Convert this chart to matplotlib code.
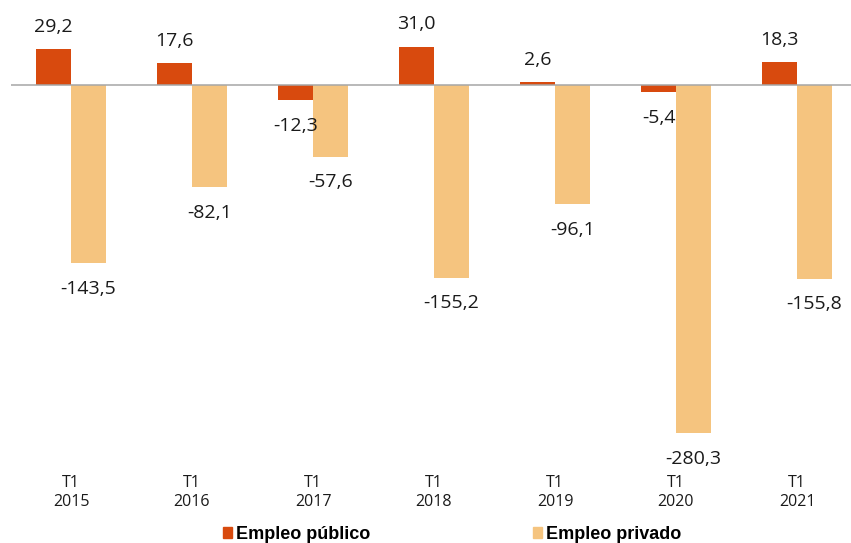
import matplotlib
matplotlib.use("Agg")
import matplotlib.pyplot as plt
from matplotlib.patches import Patch
import numpy as np

# Variación interanual del empleo, primer trimestre
periodos = ["T1\n2015", "T1\n2016", "T1\n2017", "T1\n2018", "T1\n2019", "T1\n2020", "T1\n2021"]
empleo_publico = [29.2, 17.6, -12.3, 31.0, 2.6, -5.4, 18.3]
empleo_privado = [-143.5, -82.1, -57.6, -155.2, -96.1, -280.3, -155.8]

COLOR_PUBLICO = "#d84a0e"
COLOR_PRIVADO = "#f5c47f"
FUENTE = "Open Sans"


def etiqueta(valor):
    return f"{valor:.1f}".replace(".", ",")


def main():
    W, H = 851, 543
    fig = plt.figure(figsize=(W / 100, H / 100), dpi=100)
    ax = fig.add_axes([10.5 / W, (H - 460) / H, 847 / W, 460 / H])

    x = np.arange(len(periodos))
    ancho = 0.289
    b1 = ax.bar(x - ancho / 2, empleo_publico, ancho, color=COLOR_PUBLICO, zorder=2)
    b2 = ax.bar(x + ancho / 2, empleo_privado, ancho, color=COLOR_PRIVADO, zorder=2)

    ax.axhline(0, color="#a6a6a6", lw=1.1, zorder=3)

    # etiquetas de datos
    for barras, valores in ((b1, empleo_publico), (b2, empleo_privado)):
        for rect, v in zip(barras, valores):
            cx = rect.get_x() + rect.get_width() / 2
            dy = 16 if v >= 0 else -18.5
            ax.annotate(etiqueta(v), (cx, v), xytext=(0, dy), textcoords="offset points",
                        ha="center", va="center", fontsize=14, family=FUENTE, color="#1a1a1a")

    ax.set_xlim(-0.5, len(periodos) - 0.5)
    ax.set_ylim(-302.0, 68.6)
    ax.set_xticks(x)
    ax.set_xticklabels(periodos, fontsize=11.5, family=FUENTE, linespacing=1.2, color="#1a1a1a")
    ax.tick_params(axis="x", length=0, pad=11)
    ax.set_yticks([])
    for s in ax.spines.values():
        s.set_visible(False)

    # leyenda abajo, lo más pegada al borde sin cortar el texto
    handles = [Patch(color=COLOR_PUBLICO, label="Empleo público"),
               Patch(color=COLOR_PRIVADO, label="Empleo privado")]
    fig.legend(handles=handles, loc="center left", bbox_to_anchor=(222.7 / W, 1 - 534.5 / H),
               ncol=2, frameon=False, borderpad=0, borderaxespad=0,
               handlelength=0.52, handleheight=0.52, handletextpad=0.22,
               columnspacing=9.0,
               prop={"family": "Liberation Sans", "weight": "bold", "size": 13})

    fig.savefig("out.png", dpi=100)


if __name__ == "__main__":
    main()
